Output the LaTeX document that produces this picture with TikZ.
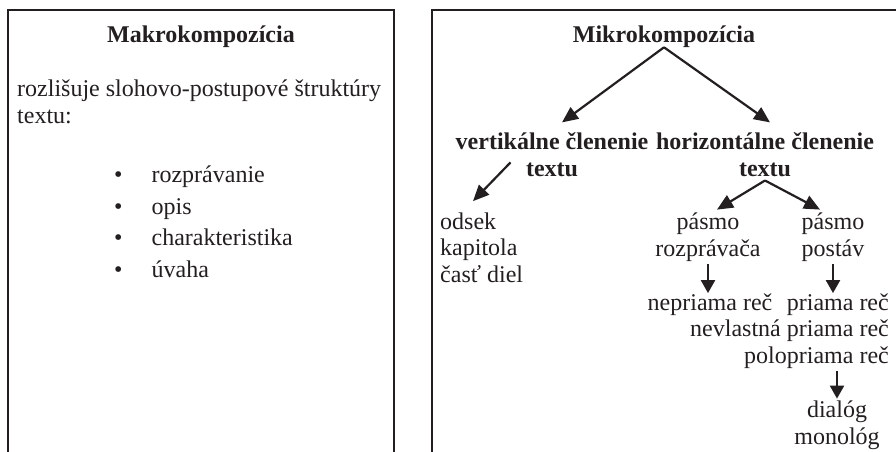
\documentclass[tikz,border=0pt]{standalone}
\usepackage{fontspec}
\setmainfont{Liberation Serif}
\usepackage{tikz}
\usetikzlibrary{arrows.meta, positioning}
\definecolor{ink}{HTML}{231F20}

\begin{document}
\begin{tikzpicture}[x=1pt, y=-1pt,
    txt/.style={inner sep=0pt, text=ink, font=\fontsize{24}{26.5}\selectfont},
    head/.style={txt, font=\fontsize{24}{26.5}\selectfont\bfseries},
    frame/.style={draw=ink, line width=2pt},
    arr/.style={-{Triangle[length=16pt,width=14pt]}, color=ink, line width=2.2pt},
    vdown/.style={-{Triangle[length=13pt,width=14pt]}, shorten <=3pt}]

  \useasboundingbox (0,0) rectangle (896,452);

  % Frames
  \draw[frame] (8,452) |- (394,10) -- (394,452);   % left frame, open at the bottom
  \draw[frame] (432,452) |- (896,10);             % right frame, runs off the page

  % Left frame (a multi-line node sits on its last line)
  \node[head, anchor=base] (makro) at (201,43) {Makrokompozícia};
  \node[txt, anchor=base west, align=left] (popis) at (17,123)
    {rozlišuje slohovo-postupové štruktúry\\textu:};
  \node[txt, anchor=base west, align=left, font=\fontsize{24}{31.5}\selectfont] (zoznam) at (114,277)
    {\textbullet\hspace{29pt}rozprávanie\\\textbullet\hspace{29pt}opis\\
     \textbullet\hspace{29pt}charakteristika\\\textbullet\hspace{29pt}úvaha};

  % Right frame
  \node[head, anchor=base] (mikro) at (664,42) {Mikrokompozícia};
  \node[head, anchor=base, align=center] (vert) at (552,176) {vertikálne členenie\\textu};
  \node[head, anchor=base, align=center] (horiz) at (765,176) {horizontálne členenie\\textu};
  \node[txt, anchor=base west, align=left] (celky) at (440,282) {odsek\\kapitola\\časť diel};
  \node[txt, anchor=base, align=center] (rozpravac) at (708,256) {pásmo\\rozprávača};  % narrator
  \node[txt, anchor=base, align=center] (postavy) at (833,256) {pásmo\\postáv};        % characters
  \node[txt, anchor=base] (nepriama) at (710,310) {nepriama reč};
  \node[txt, anchor=base east, align=right] (priama) at (889,363)
    {priama reč\\nevlastná priama reč\\polopriama reč};
  \node[txt, anchor=base, align=center] (dialog) at (837,444) {dialóg\\monológ};

  % Arrows
  \path[arr]
    (mikro.south) edge ([xshift=10pt,yshift=10pt]vert.north)        % to vertical
                  edge ([xshift=5pt,yshift=10pt]horiz.north)        % to horizontal
    ([xshift=55pt,yshift=-8pt]vert.west) edge ([xshift=33pt,yshift=11pt]celky.north west)
    ([yshift=-4pt]horiz.south) edge ([xshift=9pt,yshift=3pt]rozpravac.north)
                               edge ([xshift=-13pt,yshift=3pt]postavy.north)
    (rozpravac.south) edge[vdown] (rozpravac.south |- nepriama.north)
    (postavy.south) edge[vdown] (postavy.south |- priama.north)
    (dialog.north |- priama.south) edge[vdown] ([yshift=2pt]dialog.north);

\end{tikzpicture}
\end{document}
